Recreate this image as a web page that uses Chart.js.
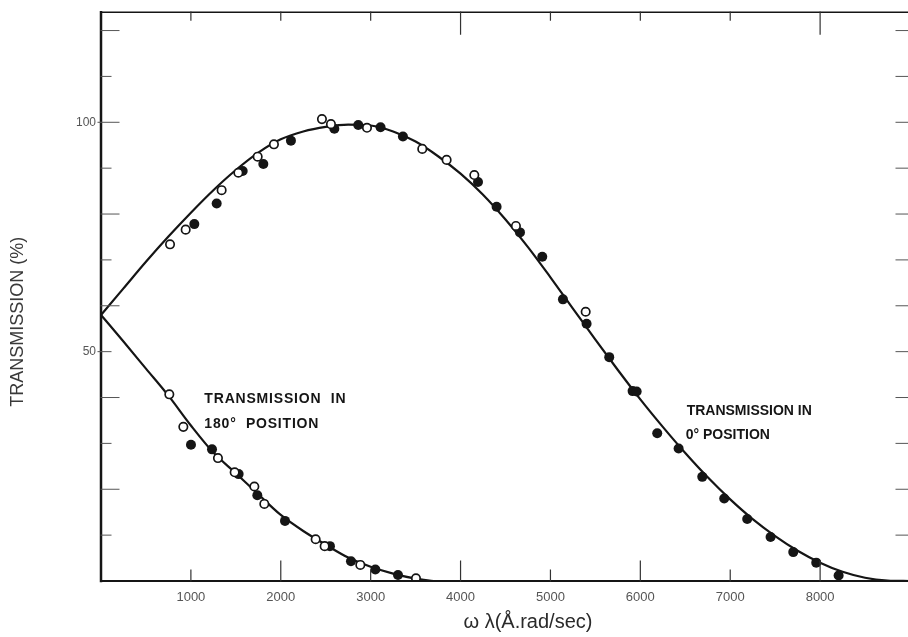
<!DOCTYPE html>
<html>
<head>
<meta charset="utf-8">
<script src="https://cdn.jsdelivr.net/npm/chart.js@4.4.0/dist/chart.umd.min.js"></script>
<style>
html, body { margin: 0; padding: 0; background: #fff; overflow: hidden; }
</style>
</head>
<body>
<canvas id="chart" width="919" height="637"></canvas>
<script>
// fitted curves
const upperCurveX = [0, 250, 500, 750, 1000, 1250, 1500, 1750, 2000, 2250, 2500, 2750, 3000, 3250, 3500, 3750, 4000, 4250, 4500, 4750, 5000, 5250, 5500, 5750, 6000, 6250, 6500, 6750, 7000, 7250, 7500, 7750, 8000, 8250, 8500, 8750, 9000];
const upperCurveY = [58, 63.8, 69.6, 75.1, 80.3, 85.2, 89.6, 93.4, 96.3, 98.0, 99.0, 99.5, 99.3, 98.0, 95.8, 92.6, 88.8, 84.2, 78.8, 72.8, 66.2, 59.4, 52.6, 46.0, 39.6, 33.6, 27.9, 22.6, 17.8, 13.5, 9.8, 6.6, 4.0, 2.0, 0.7, 0.1, 0];
const lowerCurveX = [0, 250, 500, 750, 1000, 1250, 1500, 1750, 2000, 2250, 2500, 2750, 3000, 3250, 3500, 3700];
const lowerCurveY = [58, 52.2, 46.3, 40.4, 33.9, 28.0, 23.5, 18.9, 14.4, 10.9, 7.9, 5.1, 3.1, 1.6, 0.5, 0];

// measured points, 0° position (upper curve)
const upperOpenX = [768, 942, 1342, 1528, 1743, 1924, 2458, 2558, 2959, 3574, 3845, 4153, 4616, 5392];
const upperOpenY = [73.4, 76.6, 85.2, 89.0, 92.5, 95.2, 100.7, 99.6, 98.8, 94.2, 91.8, 88.5, 77.4, 58.7];
const upperFilledX = [1038, 1287, 1576, 1806, 2113, 2596, 2862, 3110, 3359, 4194, 4401, 4661, 4909, 5139, 5402, 5654, 5914, 5959, 6188, 6426, 6689, 6933, 7189, 7449, 7701, 7957, 8206];
const upperFilledY = [77.8, 82.3, 89.4, 90.9, 96.0, 98.6, 99.4, 98.9, 96.9, 87.0, 81.6, 76.0, 70.7, 61.4, 56.1, 48.8, 41.4, 41.3, 32.2, 28.9, 22.7, 18.0, 13.5, 9.6, 6.3, 4.0, 1.2];

// measured points, 180° position (lower curve)
const lowerOpenX = [760, 916, 1301, 1487, 1706, 1817, 2388, 2488, 2885, 3504];
const lowerOpenY = [40.7, 33.6, 26.8, 23.7, 20.6, 16.8, 9.1, 7.6, 3.5, 0.6];
const lowerFilledX = [1001, 1235, 1531, 1739, 2047, 2547, 2781, 3052, 3304];
const lowerFilledY = [29.7, 28.7, 23.3, 18.7, 13.1, 7.6, 4.3, 2.5, 1.3];

const xLabels = [1000, 2000, 3000, 4000, 5000, 6000, 7000, 8000];
const yLabels = [50, 100];

const toXY = (xs, ys) => xs.map((x, i) => ({ x: x, y: ys[i] }));

const ink = '#151515';
const labelFont = '"Liberation Sans", Arial, sans-serif';

// frame with inward ticks, titles and the two notes
const framePlugin = {
  id: 'framePlugin',
  afterDraw(chart) {
    const ctx = chart.ctx;
    const a = chart.chartArea;
    const x = chart.scales.x;
    const y = chart.scales.y;
    ctx.save();
    ctx.strokeStyle = ink;
    ctx.lineCap = 'square';

    ctx.lineWidth = 2.5;
    ctx.beginPath();
    ctx.moveTo(a.left, a.top);
    ctx.lineTo(a.left, a.bottom);
    ctx.stroke();

    ctx.lineWidth = 2;
    ctx.beginPath();
    ctx.moveTo(a.left, a.bottom);
    ctx.lineTo(a.right, a.bottom);
    ctx.stroke();

    ctx.lineWidth = 1.5;
    ctx.beginPath();
    ctx.moveTo(a.left, a.top);
    ctx.lineTo(a.right, a.top);
    ctx.lineTo(a.right, a.bottom);
    ctx.stroke();

    // ticks on x (bottom and top, pointing in)
    ctx.lineWidth = 1.2;
    ctx.strokeStyle = '#333';
    for (let v = 1000; v <= 8000; v += 1000) {
      const px = x.getPixelForValue(v);
      const lb = v % 2000 === 0 ? 20 : 11;
      const lt = v % 4000 === 0 ? 22 : 8;
      ctx.beginPath();
      ctx.moveTo(px, a.bottom);
      ctx.lineTo(px, a.bottom - lb);
      ctx.moveTo(px, a.top);
      ctx.lineTo(px, a.top + lt);
      ctx.stroke();
    }
    // ticks on y (left and right, pointing in)
    ctx.strokeStyle = '#555';
    ctx.lineWidth = 1;
    for (let v = 10; v <= 120; v += 10) {
      const py = y.getPixelForValue(v);
      const len = v % 20 === 0 ? 18 : 10;
      ctx.beginPath();
      ctx.moveTo(a.left, py);
      ctx.lineTo(a.left + len, py);
      ctx.moveTo(a.right, py);
      ctx.lineTo(a.right - 14, py);
      ctx.stroke();
    }
    // small outside stubs at labelled values
    yLabels.forEach(v => {
      const py = y.getPixelForValue(v);
      ctx.beginPath();
      ctx.moveTo(a.left - 3, py);
      ctx.lineTo(a.left, py);
      ctx.stroke();
    });

    // axis titles
    ctx.fillStyle = '#2a2a2a';
    ctx.textAlign = 'center';
    ctx.textBaseline = 'middle';
    ctx.font = '20px ' + labelFont;
    ctx.fillText('\u03c9 \u03bb(\u00c5.rad/sec)', x.getPixelForValue(4750), 622);

    ctx.save();
    ctx.translate(18, y.getPixelForValue(56.5));
    ctx.rotate(-Math.PI / 2);
    ctx.font = '18px ' + labelFont;
    ctx.fillStyle = '#3a3a3a';
    ctx.fillText('TRANSMISSION (%)', 0, 0);
    ctx.restore();

    // notes
    ctx.fillStyle = ink;
    ctx.textAlign = 'left';
    ctx.textBaseline = 'alphabetic';
    ctx.font = 'bold 14px ' + labelFont;
    ctx.letterSpacing = '0.8px';
    ctx.fillText('TRANSMISSION  IN', x.getPixelForValue(1150), y.getPixelForValue(38.8));
    ctx.fillText('180\u00b0  POSITION', x.getPixelForValue(1150), y.getPixelForValue(33.4));
    ctx.letterSpacing = '0px';
    ctx.fillText('TRANSMISSION IN', x.getPixelForValue(6515), y.getPixelForValue(36.1));
    ctx.fillText('0\u00b0 POSITION', x.getPixelForValue(6505), y.getPixelForValue(31.0));
    ctx.restore();
  }
};

const ctx = document.getElementById('chart').getContext('2d');

new Chart(ctx, {
  type: 'scatter',
  data: {
    datasets: [
      {
        label: 'open',
        data: toXY(upperOpenX, upperOpenY).concat(toXY(lowerOpenX, lowerOpenY)),
        pointRadius: 4.2,
        pointBorderWidth: 1.7,
        borderColor: ink,
        backgroundColor: '#fff'
      },
      {
        label: 'filled',
        data: toXY(upperFilledX, upperFilledY).concat(toXY(lowerFilledX, lowerFilledY)),
        pointRadius: 5,
        pointBorderWidth: 0,
        borderColor: ink,
        backgroundColor: ink
      },
      {
        label: '0° position',
        data: toXY(upperCurveX, upperCurveY),
        showLine: true,
        pointRadius: 0,
        borderColor: ink,
        borderWidth: 2.2,
        cubicInterpolationMode: 'monotone'
      },
      {
        label: '180° position',
        data: toXY(lowerCurveX, lowerCurveY),
        showLine: true,
        pointRadius: 0,
        borderColor: ink,
        borderWidth: 2.2,
        cubicInterpolationMode: 'monotone'
      }
    ]
  },
  options: {
    responsive: false,
    animation: false,
    layout: { padding: { top: 8, right: 2, left: 0, bottom: 0 } },
    plugins: {
      legend: { display: false },
      tooltip: { enabled: false }
    },
    scales: {
      x: {
        type: 'linear',
        min: 0,
        max: 9000,
        grid: { display: false, drawTicks: false },
        border: { display: false },
        ticks: {
          stepSize: 1000,
          autoSkip: false,
          maxRotation: 0,
          padding: 9,
          color: '#555',
          font: { family: labelFont, size: 13 },
          callback: v => xLabels.includes(v) ? String(v) : ''
        },
        afterFit: s => { s.height = 56; }
      },
      y: {
        min: 0,
        max: 124,
        grid: { display: false, drawTicks: false },
        border: { display: false },
        ticks: {
          stepSize: 10,
          autoSkip: false,
          padding: 5,
          color: '#555',
          font: { family: labelFont, size: 12 },
          callback: v => yLabels.includes(v) ? String(v) : ''
        },
        afterFit: s => { s.width = 101; }
      }
    }
  },
  plugins: [framePlugin]
});
</script>
</body>
</html>
